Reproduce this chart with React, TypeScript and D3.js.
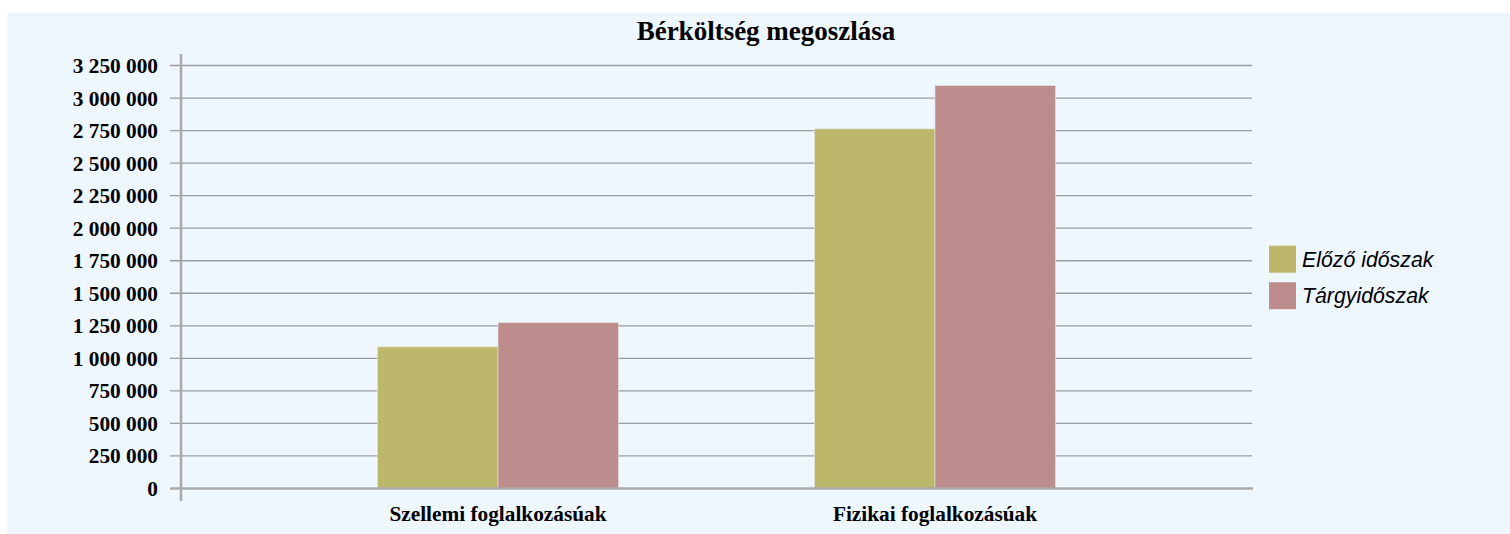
import React from "react";
import * as d3 from "d3";

const categories = ["Szellemi foglalkozásúak", "Fizikai foglalkozásúak"];
const seriesNames = ["Előző időszak", "Tárgyidőszak"];
const elozo = [1088000, 2763000];
const targy = [1275000, 3096000];
const yTicks = [0, 250000, 500000, 750000, 1000000, 1250000, 1500000, 1750000, 2000000, 2250000, 2500000, 2750000, 3000000, 3250000];
const colors = ["#BCB76A", "#BC8D8C"];

const width = 1510;
const height = 534;
const plotLeft = 181;
const plotRight = 1252;
const plotTop = 65.5;
const plotBottom = 488.5;

const fmt = (v: number) => d3.format(",")(v).replace(/,/g, " ");

const App = () => {
  const xScale = d3
    .scaleBand()
    .domain(categories)
    .range([plotLeft, plotRight])
    .paddingInner(0.4485)
    .paddingOuter(0.4497);
  const sub = d3
    .scaleBand()
    .domain(seriesNames)
    .range([0, xScale.bandwidth()]);
  const yScale = d3
    .scaleLinear()
    .domain([0, 3250000])
    .range([plotBottom, plotTop]);
  const series = [elozo, targy];
  const serif = "'Liberation Serif', 'Times New Roman', serif";
  const sans = "'Liberation Sans', Arial, sans-serif";

  return (
    <svg
      width={width}
      height={height}
      style={{ position: "absolute", left: 0, top: 0 }}
    >
      <rect x={7} y={13} width={width} height={height} fill="#EEF6FE" />
      <text
        x={766}
        y={40}
        textAnchor="middle"
        fontFamily={serif}
        fontWeight="bold"
        fontSize={27}
      >
        Bérköltség megoszlása
      </text>
      {yTicks.map((t, i) => (
        <g key={i}>
          {t > 0 && (
            <line
              x1={170}
              x2={plotRight}
              y1={yScale(t)}
              y2={yScale(t)}
              stroke="#9c9c9c"
              strokeWidth={1.3}
            />
          )}
          <text
            x={158}
            y={yScale(t) + 7.5}
            textAnchor="end"
            fontFamily={serif}
            fontWeight="bold"
            fontSize={21.3}
          >
            {fmt(t)}
          </text>
        </g>
      ))}
      {categories.map((c, ci) =>
        series.map((s, si) => (
          <rect
            key={c + si}
            x={(xScale(c) ?? 0) + (sub(seriesNames[si]) ?? 0)}
            y={yScale(s[ci])}
            width={sub.bandwidth()}
            height={plotBottom - yScale(s[ci])}
            fill={colors[si]}
            stroke="#e4e4e4"
            strokeWidth={0.6}
          />
        ))
      )}
      <line
        x1={170}
        x2={plotRight + 1}
        y1={plotBottom}
        y2={plotBottom}
        stroke="#aaaaaa"
        strokeWidth={2.5}
      />
      <line
        x1={plotLeft}
        x2={plotLeft}
        y1={54}
        y2={501}
        stroke="#aaaaaa"
        strokeWidth={2.5}
      />
      {categories.map(c => (
        <text
          key={c}
          x={(xScale(c) ?? 0) + xScale.bandwidth() / 2}
          y={521}
          textAnchor="middle"
          fontFamily={serif}
          fontWeight="bold"
          fontSize={21.3}
        >
          {c}
        </text>
      ))}
      {seriesNames.map((n, i) => (
        <g key={n} transform={`translate(1269, ${245.7 + i * 36.5})`}>
          <rect width={27} height={27} fill={colors[i]} />
          <text
            x={33}
            y={21}
            fontFamily={sans}
            fontStyle="italic"
            fontSize={21.3}
          >
            {n}
          </text>
        </g>
      ))}
    </svg>
  );
};

export default App;
